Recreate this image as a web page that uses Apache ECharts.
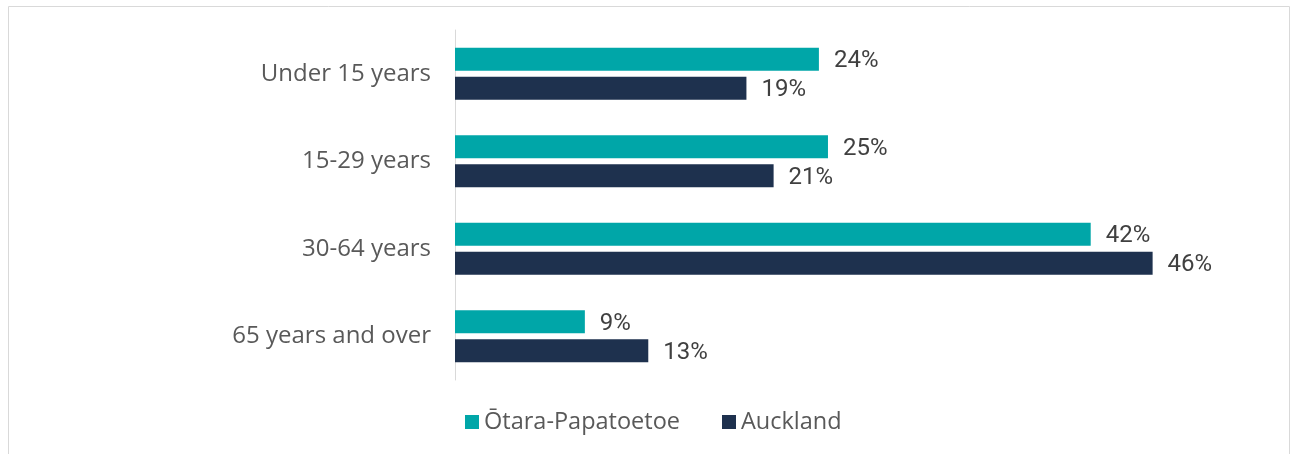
<!DOCTYPE html>
<html>
<head>
<meta charset="utf-8">
<script src="https://cdn.jsdelivr.net/npm/echarts@6/dist/echarts.min.js"></script>
<style>
  html, body { margin: 0; padding: 0; background: #fff; }
  #chart { width: 1292px; height: 454px; }
</style>
</head>
<body>
<div id="chart"></div>
<script>
// age groups, top to bottom
var categories = ['Under 15 years', '15-29 years', '30-64 years', '65 years and over'];
var seriesNames = ['\u014Ctara-Papatoetoe', 'Auckland'];
// percent of population (labels are rounded)
var otaraValues = [24.1, 24.7, 42.1, 8.6];
var aucklandValues = [19.3, 21.1, 46.2, 12.8];

var FONT = '"Open Sans"';
var NUM_FONT = 'Roboto';

var myChart = echarts.init(document.getElementById('chart'));

function barLabel() {
	return {
		show: true,
		position: 'right',
		distance: 15,
		offset: [0, 2],
		color: '#404040',
		fontFamily: NUM_FONT,
		fontSize: 24,
		formatter: function (p) { return Math.round(p.value) + '%'; }
	};
}

var option = {
	animation: false,
	textStyle: { fontFamily: FONT },
	color: ['#00A6A8', '#1E314E'],
	graphic: [{
		type: 'rect',
		shape: { x: 8.5, y: 6.5, width: 1281, height: 470 },
		style: { fill: 'none', stroke: '#d9d9d9', lineWidth: 1 },
		silent: true
	}],
	grid: { left: 455, right: 82, top: 30, height: 350 },
	legend: {
		left: 460,
		top: 405,
		icon: 'rect',
		itemWidth: 14,
		itemHeight: 14,
		itemGap: 42,
		textStyle: { color: '#595959', fontSize: 23.5, fontFamily: FONT },
		data: seriesNames
	},
	xAxis: {
		type: 'value',
		min: 0,
		max: 50,
		show: false
	},
	yAxis: {
		type: 'category',
		inverse: true,
		data: categories,
		axisLine: { show: true, lineStyle: { color: '#d9d9d9', width: 1 } },
		axisTick: { show: false },
		axisLabel: { color: '#595959', fontSize: 24, fontFamily: FONT, margin: 24 }
	},
	series: [
		{
			name: seriesNames[0],
			type: 'bar',
			barWidth: 23,
			barGap: '26%',
			data: otaraValues,
			label: barLabel()
		},
		{
			name: seriesNames[1],
			type: 'bar',
			barWidth: 23,
			barGap: '26%',
			data: aucklandValues,
			label: barLabel()
		}
	]
};
myChart.setOption(option);
</script>
</body>
</html>
